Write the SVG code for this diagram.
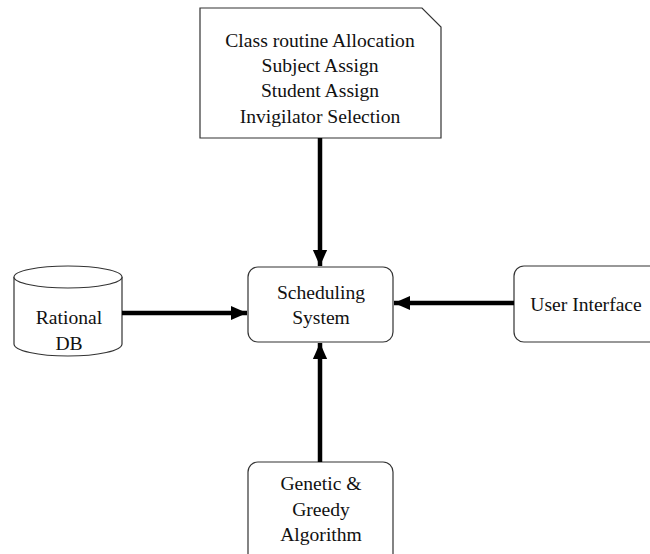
<svg xmlns="http://www.w3.org/2000/svg" width="650" height="554" viewBox="0 0 650 554">
<style>
.shape{fill:#fff;stroke:#333;stroke-width:1.2}
.t{font-family:"Liberation Serif","Times New Roman",serif;font-size:19.6px;fill:#111;text-anchor:middle}
.c{stroke:#000;stroke-width:4.5;fill:none;marker-end:url(#ah)}
</style>
<defs>
<marker id="ah" markerWidth="4" markerHeight="4" refX="3.6" refY="2" orient="auto" markerUnits="strokeWidth" viewBox="0 0 4 4">
<path d="M0,0.4 L3.6,2 L0,3.6 Z" fill="#000"/>
</marker>
</defs>
<rect width="650" height="554" fill="#fff"/>
<g id="tasks">
<path class="shape" d="M200,8 H422 L441,27 V138 H200 Z"/>
<text class="t" x="320" y="47">Class routine Allocation</text>
<text class="t" x="320" y="72">Subject Assign</text>
<text class="t" x="320" y="97">Student Assign</text>
<text class="t" x="320" y="123">Invigilator Selection</text>
</g>
<g id="scheduling">
<rect class="shape" x="248" y="267" width="145" height="75" rx="10"/>
<text class="t" x="321" y="299">Scheduling</text>
<text class="t" x="321" y="324">System</text>
</g>
<g id="db">
<path class="shape" d="M14,277 V344 A54,12 0 0 0 122,344 V277"/>
<ellipse class="shape" cx="68" cy="277" rx="54" ry="11"/>
<text class="t" x="69" y="324">Rational</text>
<text class="t" x="69" y="350">DB</text>
</g>
<g id="ui">
<rect class="shape" x="514" y="266" width="150" height="76" rx="10"/>
<text class="t" x="586" y="311">User Interface</text>
</g>
<g id="algo">
<rect class="shape" x="248" y="462" width="145" height="104" rx="10"/>
<text class="t" x="321" y="490">Genetic &amp;</text>
<text class="t" x="321" y="516">Greedy</text>
<text class="t" x="321" y="541">Algorithm</text>
</g>
<g id="connectors">
<line class="c" x1="320" y1="138" x2="320" y2="266"/>
<line class="c" x1="122" y1="313" x2="247" y2="313"/>
<line class="c" x1="514" y1="303" x2="394" y2="303"/>
<line class="c" x1="320" y1="462" x2="320" y2="343"/>
</g>
</svg>
